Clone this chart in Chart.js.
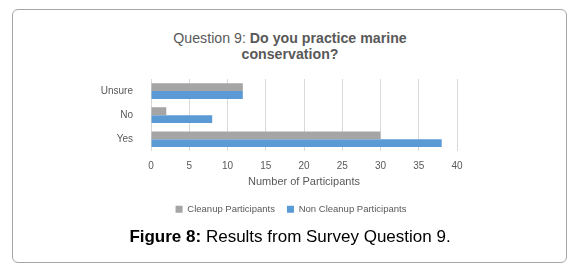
<!DOCTYPE html>
<html>
<head>
<meta charset="utf-8">
<script src="https://cdn.jsdelivr.net/npm/chart.js@4"></script>
<style>
  body { margin: 0; background: #fff; font-family: "Liberation Sans", Arial, sans-serif; }
  #wrap { position: relative; width: 577px; height: 268px; }
  #frame { position: absolute; left: 12px; top: 9px; width: 553px; height: 252px; border: 1px solid #a6a6a6; border-radius: 6px; }
  #titulo { position: absolute; left: 90px; width: 400px; top: 30px; text-align: center; color: #595959; font-size: 14.2px; line-height: 16px; }
  #pie { position: absolute; left: 0; width: 580px; top: 227px; text-align: center; color: #000; font-size: 17px; }
  canvas { position: absolute; left: 0; top: 0; }
</style>
</head>
<body>
<div id="wrap">
  <div id="frame"></div>
  <div id="titulo">Question 9: <b>Do you practice marine<br>conservation?</b></div>
  <canvas id="grafico" width="577" height="268"></canvas>
  <div id="pie"><b>Figure 8:</b> Results from Survey Question 9.</div>
</div>
<script>
// datos
const categorias = ['Unsure', 'No', 'Yes']
const limpieza = [12, 2, 30]
const noLimpieza = [12, 8, 38]
const ticksX = [0, 5, 10, 15, 20, 25, 30, 35, 40]

// centra la leyenda bajo el titulo y no bajo el area del grafico
const centrarLeyenda = {
    id: 'centrarLeyenda',
    afterLayout(chart) {
        chart.legend.left = 60
        chart.legend.right = 522
        chart.legend.top += 4
        chart.legend.bottom += 4
    }
}

let ctx = document.getElementById('grafico')
let myChart = new Chart(ctx, {
    type: 'bar',
    data: {
        labels: categorias,
        datasets: [{
            label: 'Cleanup Participants',
            data: limpieza,
            backgroundColor: '#a5a5a5',
            categoryPercentage: 0.65,
            barPercentage: 1
        }, {
            label: 'Non Cleanup Participants',
            data: noLimpieza,
            backgroundColor: '#5b9bd5',
            categoryPercentage: 0.65,
            barPercentage: 1
        }]
    },
    options: {
        indexAxis: 'y',
        responsive: false,
        animation: false,
        layout: { padding: { top: 79, left: 0, right: 120, bottom: 48 } },
        plugins: {
            tooltip: { enabled: false },
            legend: {
                position: 'bottom',
                labels: {
                    boxWidth: 7, boxHeight: 7, padding: 12,
                    color: '#595959',
                    font: { family: 'Liberation Sans', size: 9.5 }
                }
            }
        },
        scales: {
            x: {
                min: 0, max: 40,
                afterBuildTicks: (s) => { s.ticks = ticksX.map(v => ({ value: v })) },
                grid: { color: '#d9d9d9', drawTicks: false },
                border: { display: false },
                ticks: { color: '#595959', padding: 10, font: { family: 'Liberation Sans', size: 10, lineHeight: 1 } },
                title: {
                    display: true, text: 'Number of Participants', color: '#595959',
                    padding: { top: -6, bottom: 0 },
                    font: { family: 'Liberation Sans', size: 11 }
                }
            },
            y: {
                grid: { display: false },
                border: { display: false },
                afterFit: (s) => { s.width = 151 },
                ticks: { color: '#595959', padding: 10, font: { family: 'Liberation Sans', size: 10 } }
            }
        }
    },
    plugins: [centrarLeyenda]
})
</script>
</body>
</html>
